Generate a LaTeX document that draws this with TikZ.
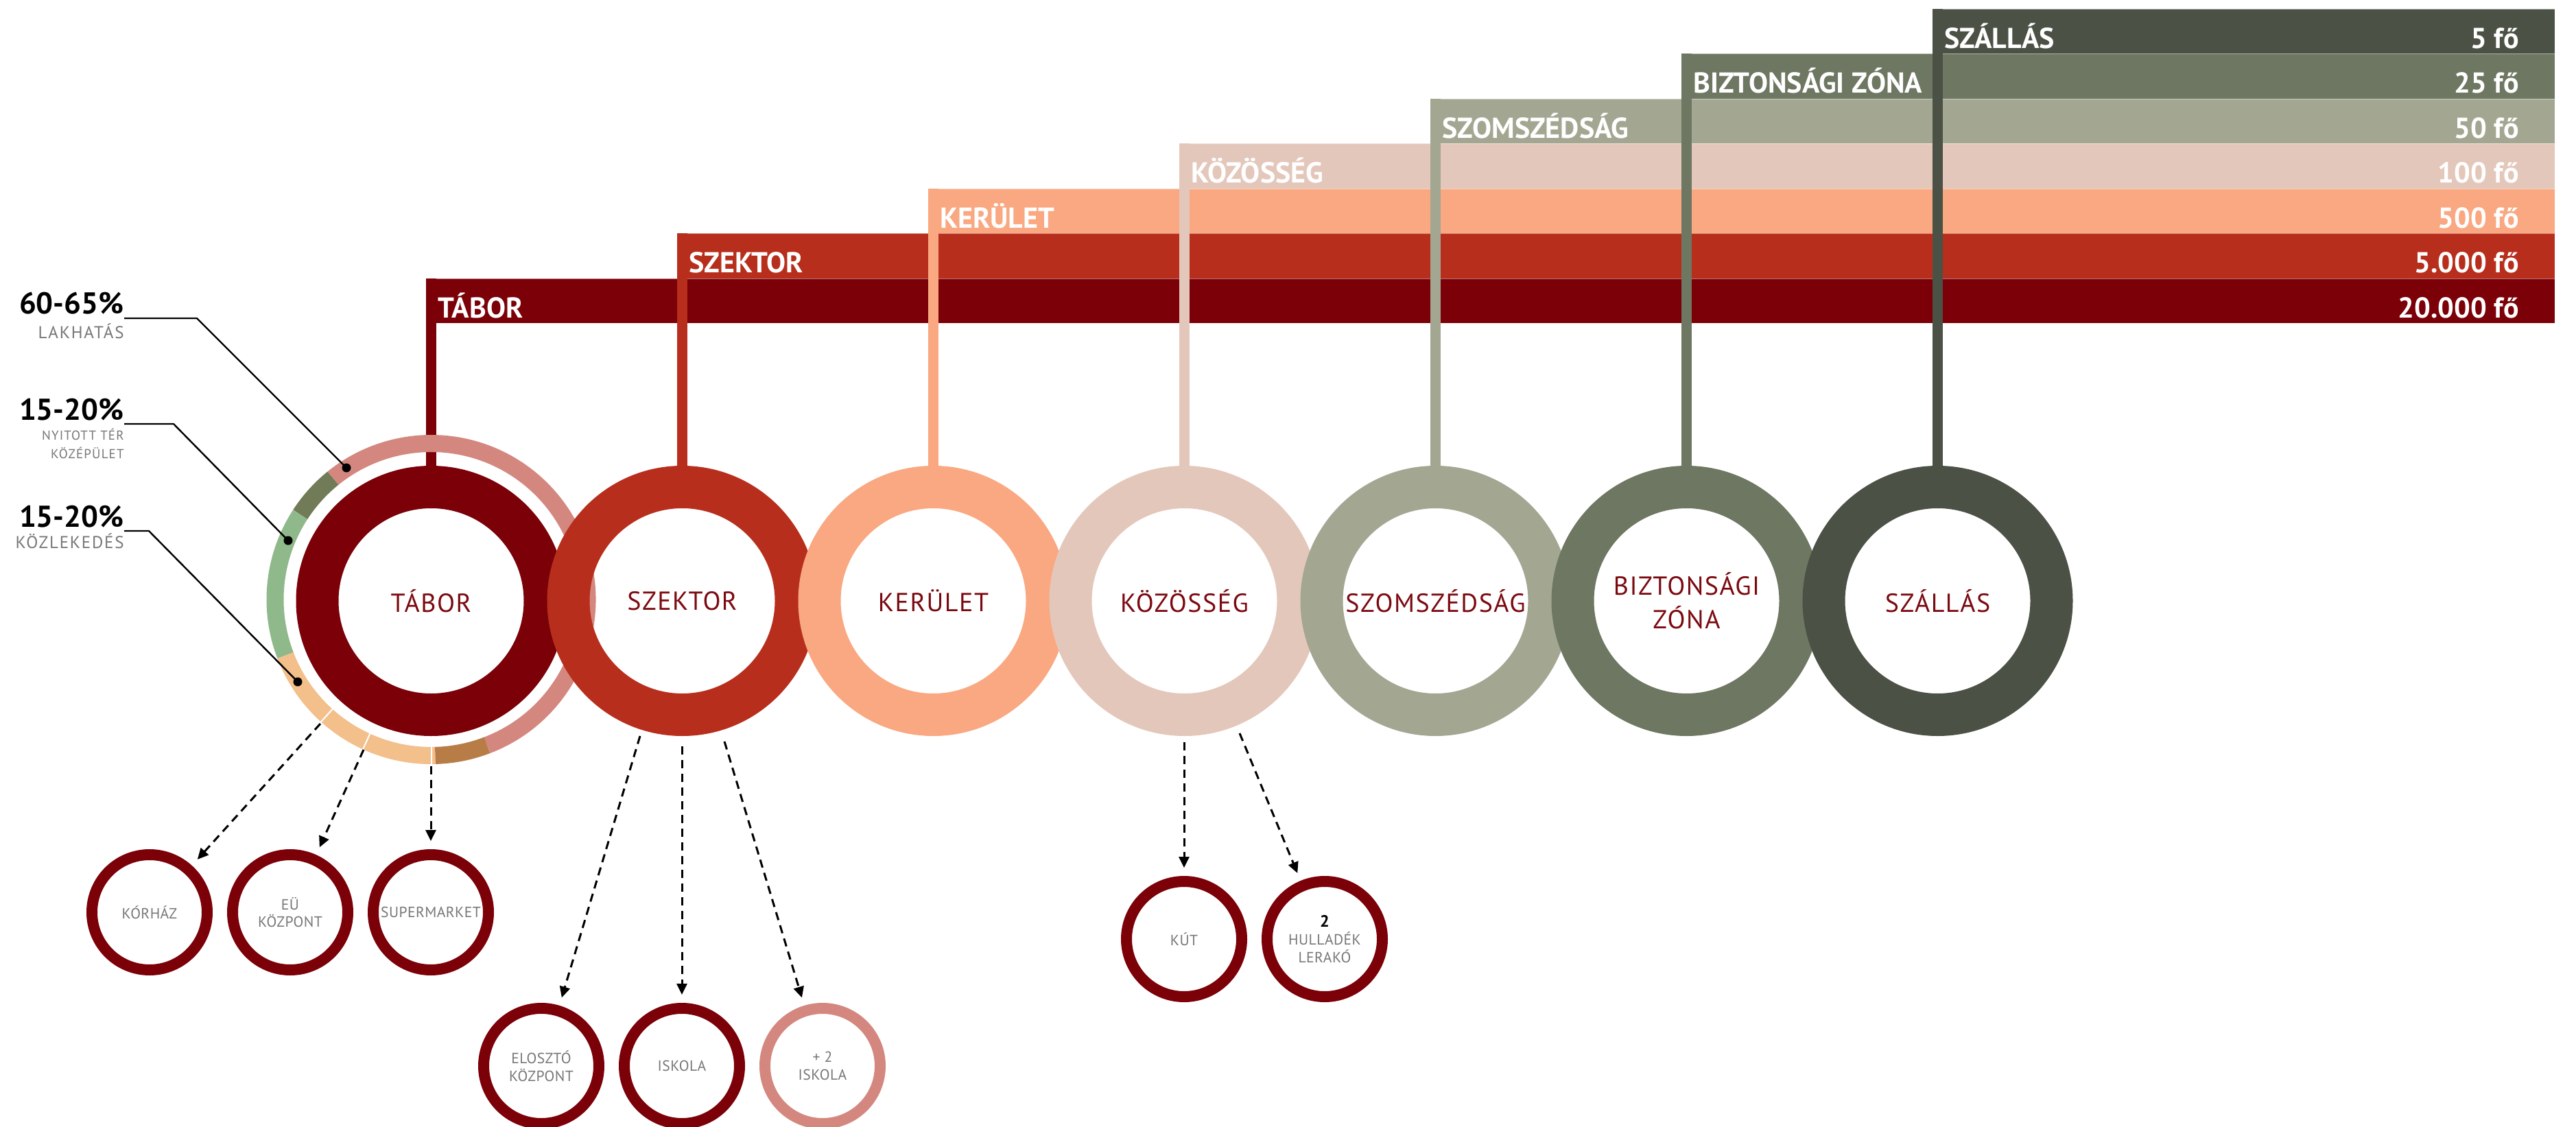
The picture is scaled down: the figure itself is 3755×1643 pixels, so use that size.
\documentclass[tikz,border=0pt]{standalone}
\usepackage{fontspec}
\setmainfont{PT Sans}
\usetikzlibrary{arrows.meta}
\definecolor{tabC}{HTML}{7B0008}
\definecolor{szekC}{HTML}{B72F1C}
\definecolor{kerC}{HTML}{F9A881}
\definecolor{kozC}{HTML}{E4C7BB}
\definecolor{szoC}{HTML}{A3A792}
\definecolor{bizC}{HTML}{6E7761}
\definecolor{szaC}{HTML}{4B5145}
\definecolor{pinkS}{HTML}{D4877F}
\definecolor{oliveS}{HTML}{717B57}
\definecolor{greenS}{HTML}{8FB98A}
\definecolor{peachS}{HTML}{F3BF8B}
\definecolor{brownS}{HTML}{B87D47}
\definecolor{txtred}{HTML}{7B0A10}
\definecolor{txtgray}{HTML}{777777}
\newcommand\mybarfont{\fontsize{21pt}{21pt}\selectfont\bfseries}
\newcommand\myringfont{\fontsize{19pt}{24.5pt}\selectfont\addfontfeature{LetterSpace=4}}
\newcommand\mysubfont{\fontsize{10.8pt}{12.8pt}\selectfont\addfontfeature{LetterSpace=2}}
\newcommand\mypctfont{\fontsize{22pt}{22pt}\selectfont\bfseries}
\newcommand\mycatfont{\fontsize{12.5pt}{13pt}\selectfont\addfontfeature{LetterSpace=7}}
\newcommand\mycatsmall{\fontsize{9.5pt}{13.5pt}\selectfont\addfontfeature{LetterSpace=6}}
\begin{document}
\begin{tikzpicture}[x=0.5pt,y=-0.5pt,
  barlabel/.style={text=white, font=\mybarfont, inner sep=0pt, anchor=base west},
  barnum/.style={text=white, font=\mybarfont, inner sep=0pt, anchor=base east},
  bigring/.style={circle, minimum size=166pt, line width=31pt, inner sep=0pt, text=txtred, font=\myringfont, align=center},
  subring/.style={circle, minimum size=84pt, line width=8pt, draw=tabC, inner sep=0pt, text=txtgray, font=\mysubfont, align=center},
  conn/.style={dash pattern=on 6pt off 4pt, line width=1.5pt, -{Triangle[length=8pt,width=7.5pt]}, shorten >=6pt},
  leader/.style={line width=1.2pt, black},
  dotmark/.style={circle, fill=black, inner sep=0pt, minimum size=6.5pt},
  seg/.style={line width=12.5pt},
  sepline/.style={white, line width=1pt},
  pctlabel/.style={anchor=base east, inner sep=0pt, font=\mypctfont, text=black},
  catlabel/.style={anchor=base east, inner sep=0pt, font=\mycatfont, text=txtgray},
  catsmall/.style={anchor=base east, inner sep=0pt, font=\mycatsmall, text=txtgray},
  ]
\useasboundingbox (0,0) rectangle (3755,1643);
\fill[white] (0,0) rectangle (3755,1643);

% population bars
\foreach \k/\c/\lab/\num in {0/tabC/TÁBOR/20.000 fő,1/szekC/SZEKTOR/5.000 fő,2/kerC/KERÜLET/500 fő,3/kozC/KÖZÖSSÉG/100 fő,4/szoC/SZOMSZÉDSÁG/50 fő,5/bizC/BIZTONSÁGI ZÓNA/25 fő,6/szaC/SZÁLLÁS/5 fő}{
  \pgfmathsetmacro\xl{621+366*\k}
  \pgfmathsetmacro\yt{13+65.43*(6-\k)}
  \pgfmathsetmacro\yb{\yt+65.43}
  \fill[\c] (\xl,\yt) rectangle (3724,\yb);
  \draw[white, opacity=0.45, line width=1pt] (\xl,\yt) -- (3724,\yt);
  \node[barlabel] (barlab\k) at (\xl+17,\yb-8) {\lab};
  \node[barnum] (barnum\k) at (3672,\yb-8) {\num};
}
% stems
\foreach \k/\c in {0/tabC,1/szekC,2/kerC,3/kozC,4/szoC,5/bizC,6/szaC}{
  \pgfmathsetmacro\xl{621+366*\k}
  \pgfmathsetmacro\yt{13+65.43*(6-\k)}
  \fill[\c] (\xl,\yt) rectangle (\xl+15,690);
}

% segmented ring around TÁBOR
\coordinate (tc) at (628.5,874);
\draw[seg, pinkS] (tc) ++(69:227.5) arc[start angle=69, end angle=-129, radius=227.5];
\draw[seg, oliveS] (tc) ++(-129:227.5) arc[start angle=-129, end angle=-147, radius=227.5];
\draw[seg, greenS] (tc) ++(-147:227.5) arc[start angle=-147, end angle=-201, radius=227.5];
\draw[seg, peachS] (tc) ++(-201:227.5) arc[start angle=-201, end angle=-271.5, radius=227.5];
\draw[seg, brownS] (tc) ++(-271.5:227.5) arc[start angle=-271.5, end angle=-291, radius=227.5];
\foreach \a in {-228,-245.5,-270}{
  \draw[sepline] (tc) ++(\a:213) -- ++(\a:29);
}

% percentage labels and leaders
\node[pctlabel] (p1) at (181,457) {60-65\%};
\node[catlabel] (c1) at (181,493) {LAKHATÁS};
\node[pctlabel] (p2) at (181,612) {15-20\%};
\node[catsmall] (c2) at (181,641) {NYITOTT TÉR};
\node[catsmall] (c3) at (181,668) {KÖZÉPÜLET};
\node[pctlabel] (p3) at (181,768) {15-20\%};
\node[catlabel] (c4) at (181,799) {KÖZLEKEDÉS};
\node[dotmark] (d1) at (505,682) {};
\node[dotmark] (d2) at (420,788) {};
\node[dotmark] (d3) at (434,994) {};
\coordinate (l1) at (181,464);
\coordinate (l2) at (181,618);
\coordinate (l3) at (181,774);
\draw[leader] (l1) -- (287,464) -- (d1.center);
\draw[leader] (l2) -- (253,618) -- (d2.center);
\draw[leader] (l3) -- (217,774) -- (d3.center);

% big rings
\foreach \k/\c/\lab in {0/tabC/TÁBOR,1/szekC/SZEKTOR,2/kerC/KERÜLET,3/kozC/KÖZÖSSÉG,4/szoC/SZOMSZÉDSÁG,5/bizC/{BIZTONSÁGI\\ZÓNA},6/szaC/SZÁLLÁS}{
  \pgfmathsetmacro\xc{628.5+366*\k}
  \node[bigring, draw=\c] (ring\k) at (\xc,876) {\lab};
}

% sub circles
\node[subring] (kor) at (218,1330) {KÓRHÁZ};
\node[subring] (eu) at (423,1330) {EÜ\\KÖZPONT};
\node[subring] (sup) at (628,1330) {SUPERMARKET};
\node[subring] (elo) at (789,1554) {ELOSZTÓ\\KÖZPONT};
\node[subring] (isk) at (994,1554) {ISKOLA};
\node[subring, draw=pinkS] (isk2) at (1199,1554) {+ 2\\ISKOLA};
\node[subring] (kut) at (1726,1369) {KÚT};
\node[subring] (hull) at (1931,1369) {{\color{black}\bfseries\fontsize{12pt}{12.5pt}\selectfont 2}\\HULLADÉK\\LERAKÓ};

% dashed connectors
\coordinate (s1) at (467,1055);
\coordinate (s2) at (530,1093);
\coordinate (s3) at (628,1117);
\coordinate (s4) at (933,1073);
\coordinate (s5) at (994,1088);
\coordinate (s6) at (1056,1081);
\coordinate (s7) at (1726,1082);
\coordinate (s8) at (1807,1069);
\draw[conn] (s1) -- (kor);
\draw[conn] (s2) -- (eu);
\draw[conn] (s3) -- (sup);
\draw[conn] (s4) -- (elo);
\draw[conn] (s5) -- (isk);
\draw[conn] (s6) -- (isk2);
\draw[conn] (s7) -- (kut);
\draw[conn] (s8) -- (hull);
\end{tikzpicture}
\end{document}
